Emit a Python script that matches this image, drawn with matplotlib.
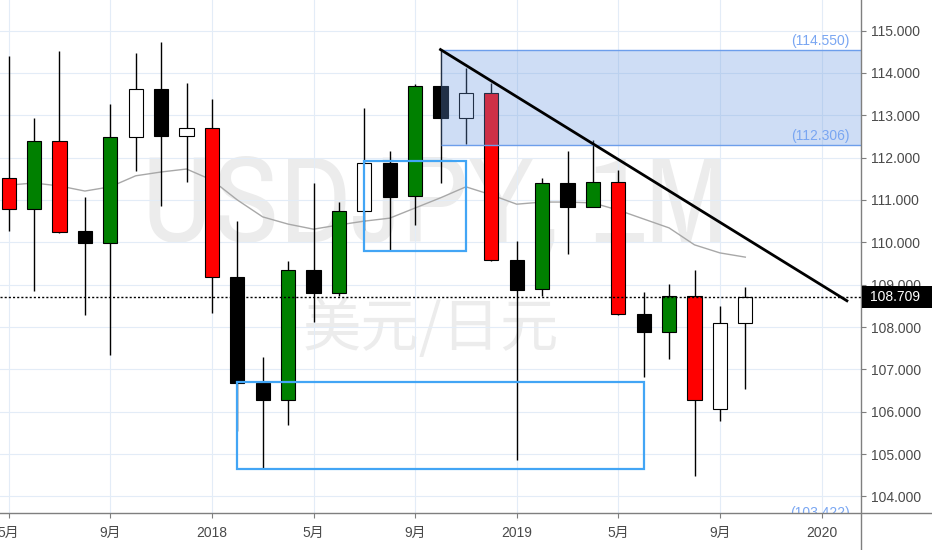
import matplotlib
matplotlib.use('Agg')
import matplotlib.pyplot as plt
import matplotlib.transforms as mtransforms
from matplotlib import font_manager
from matplotlib.patches import Rectangle
from matplotlib.lines import Line2D

plt.rcParams['font.family'] = ['Liberation Sans', 'Noto Sans CJK SC']

# velas mensuales USDJPY, 2017-05 .. 2019-10
opens = [111.52, 110.78, 112.40, 110.27, 109.99, 112.49, 113.63, 112.52, 112.71, 109.19,
         106.67, 106.28, 109.35, 108.81, 110.75, 111.88, 111.09, 113.69, 112.94, 113.52,
         109.58, 108.89, 111.39, 110.84, 111.42, 108.30, 107.89, 108.74, 106.06, 108.09]
highs = [114.40, 112.93, 114.52, 111.06, 113.26, 114.46, 114.74, 113.75, 113.38, 110.51,
         107.30, 109.57, 111.41, 110.96, 113.18, 112.16, 113.73, 114.54, 114.11, 113.77,
         110.04, 111.52, 112.16, 112.42, 111.71, 108.83, 109.01, 109.35, 108.50, 108.95]
lows = [110.27, 108.85, 110.22, 108.28, 107.34, 111.69, 110.86, 111.43, 108.32, 105.55,
        104.66, 105.69, 108.13, 108.73, 110.28, 109.82, 110.41, 111.41, 112.32, 109.55,
        104.86, 108.73, 109.72, 110.83, 108.28, 106.83, 107.24, 104.49, 105.79, 106.53]
closes = [110.79, 112.39, 110.25, 109.98, 112.49, 113.63, 112.52, 112.71, 109.19, 106.67,
          106.28, 109.35, 108.81, 110.75, 111.88, 111.08, 113.69, 112.94, 113.52, 109.58,
          108.87, 111.39, 110.84, 111.42, 108.30, 107.89, 108.74, 106.28, 108.09, 108.71]
colores = ['red', 'green', 'red', 'black', 'green', 'white', 'black', 'white', 'red', 'black',
           'black', 'green', 'black', 'green', 'white', 'black', 'green', 'black', 'white', 'red',
           'black', 'green', 'black', 'green', 'red', 'black', 'green', 'red', 'white', 'white']
media = [111.35, 111.40, 111.33, 111.21, 111.31, 111.57, 111.66, 111.73, 111.47, 111.00,
         110.60, 110.43, 110.31, 110.41, 110.50, 110.57, 110.81, 111.05, 111.31, 111.12,
         110.90, 110.95, 110.95, 110.93, 110.76, 110.55, 110.34, 109.94, 109.75, 109.65]

tick_pos = [0, 4, 8, 12, 16, 20, 24, 28, 32]
tick_labels = ['5月', '9月', '2018', '5月', '9月', '2019', '5月', '9月', '2020']
precios = list(range(104, 116))

ultimo = 108.709
zona_alta = 114.550
zona_baja = 112.306
zona_extra = 103.422
zona_inicio = 17
tendencia_x = [17, 33]
tendencia_y = [114.55, 108.62]
caja1 = [14, 18, 109.80, 111.92]
caja2 = [9, 25, 104.65, 106.71]

# buscar una fuente estrecha para la marca de agua, si hay alguna
fuente_marca = 'Liberation Sans'
for f in font_manager.fontManager.ttflist:
    n = f.name
    if ('Condensed' in n or 'Narrow' in n) and 'Mono' not in n and 'Serif' not in n:
        fuente_marca = n
        break

fig = plt.figure(figsize=(9.32, 5.5), dpi=100)
ax = fig.add_axes([0, 37 / 550, 861 / 932, 513 / 550])
xmin, xmax = -0.3425, 33.555
ax.set_xlim(xmin, xmax)
ax.set_ylim(103.61, 115.72)

for s in ax.spines.values():
    s.set_visible(False)
ax.yaxis.tick_right()
ax.set_xticks(tick_pos)
ax.set_xticklabels(tick_labels)
ax.set_yticks(precios)
ax.set_yticklabels(['%.3f' % p for p in precios])
ax.tick_params(axis='both', length=3.6, color='#7f7f7f', labelcolor='#4a4a4a', labelsize=10)
ax.tick_params(axis='y', pad=3.5)
ax.tick_params(axis='x', pad=6)
ax.grid(color='#e3ecf7', lw=0.8)
ax.set_axisbelow(True)

# marcas de agua
marca = ax.text(5.21, 110.0, 'USDJPY, 1M', fontsize=92, color='#ececec',
                family=[fuente_marca, 'Liberation Sans'], ha='left', va='baseline',
                zorder=0.4)
ax.text(16.6, 107.93, '美元/日元', fontsize=42, color='#ececec',
        family=['Noto Sans CJK SC'], ha='center', va='center', zorder=0.4)

# media movil
x = list(range(len(opens)))
ax.plot(x, media, color='#a8a8a8', lw=1, zorder=1.5)

# velas
ax.vlines(x, lows, highs, color='black', lw=1, zorder=2)
bottoms = [min(o, c) for o, c in zip(opens, closes)]
alturas = [max(abs(c - o), 0.02) for o, c in zip(opens, closes)]
ax.bar(x, alturas, bottom=bottoms, width=0.565, color=colores, edgecolor='black',
       linewidth=0.8, zorder=3)

# zona azul
ax.add_patch(Rectangle((zona_inicio, zona_baja), xmax - zona_inicio, zona_alta - zona_baja,
                       facecolor='#6998e0', alpha=0.32, lw=0, zorder=4))
ax.hlines([zona_alta, zona_baja], zona_inicio, xmax, color='#6d9eeb', lw=1, zorder=4)
ytr = ax.get_yaxis_transform()
for nivel in [zona_alta, zona_baja, zona_extra]:
    ax.text(0.987, nivel + 0.03, '(%.3f)' % nivel, transform=ytr, ha='right', va='bottom',
            color='#79a6f2', fontsize=10, zorder=6, clip_on=True)

# cajas
for c in [caja1, caja2]:
    ax.add_patch(Rectangle((c[0], c[2]), c[1] - c[0], c[3] - c[2], fill=False,
                           edgecolor='#42a5f5', lw=1.6, zorder=4.5))

# linea de tendencia
ax.plot(tendencia_x, tendencia_y, color='black', lw=2, zorder=5)

# precio actual
ax.axhline(ultimo, color='black', lw=1, linestyle=(0, (1.5, 1.5)), zorder=4)

fig.add_artist(Line2D([861 / 932] * 2, [0, 1], transform=fig.transFigure, color='#7f7f7f', lw=1))
fig.add_artist(Line2D([0, 1], [37 / 550] * 2, transform=fig.transFigure, color='#7f7f7f', lw=1))

trans = mtransforms.blended_transform_factory(fig.transFigure, ax.transData)
fig.add_artist(Rectangle((862 / 932, ultimo - 0.248), 70 / 932, 0.496, transform=trans,
                         facecolor='black', lw=0, zorder=5))
fig.text(870 / 932, ultimo, '%.3f' % ultimo, transform=trans, color='white', fontsize=10,
         ha='left', va='center', zorder=6)

# ajustar el ancho de la marca de agua (~587 px)
fig.canvas.draw()
ancho = marca.get_window_extent().width
marca.set_fontsize(min(96, 92 * 587 / ancho))

fig.savefig('out.png', dpi=100)
